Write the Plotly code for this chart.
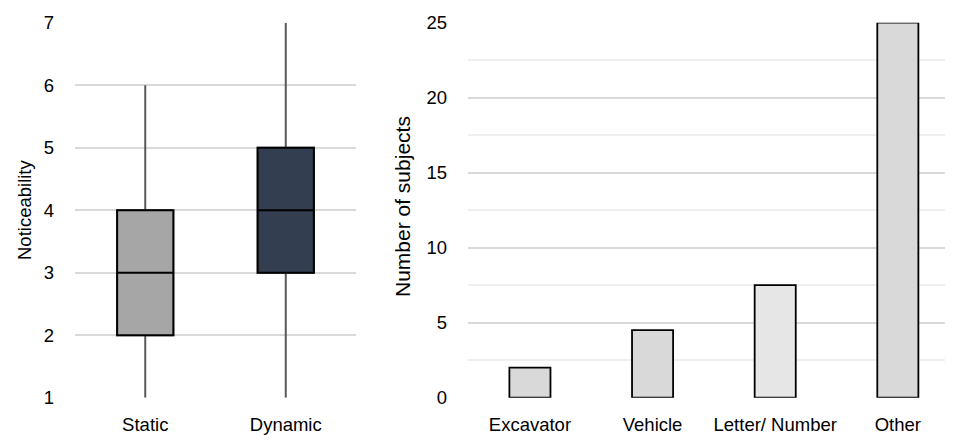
import plotly.graph_objects as go

# Left: box plot summary statistics
box_categories = ["Static", "Dynamic"]
box_min = [1, 1]
box_q1 = [2, 3]
box_median = [3, 4]
box_q3 = [4, 5]
box_max = [6, 7]
box_colors = ["#a6a6a6", "#333f50"]

# Right: bar chart
bar_categories = ["Excavator", "Vehicle", "Letter/ Number", "Other"]
bar_values = [2, 4.5, 7.5, 25]
bar_colors = ["#d9d9d9", "#d9d9d9", "#e6e6e6", "#d9d9d9"]

FONT = "Liberation Sans, Arial, sans-serif"
TICK = 18.5
W, H = 953, 440
OFF = 8  # page body offset compensation

fig = go.Figure()

for i, cat in enumerate(box_categories):
    # whiskers (grey)
    fig.add_trace(go.Box(
        x=[cat], q1=[box_q1[i]], median=[box_median[i]], q3=[box_q3[i]],
        lowerfence=[box_min[i]], upperfence=[box_max[i]],
        fillcolor=box_colors[i], line=dict(color="#595959", width=2),
        whiskerwidth=0, width=0.4, showlegend=False, boxpoints=False,
        xaxis="x", yaxis="y", hoverinfo="skip",
    ))
    # box (black outline)
    fig.add_trace(go.Box(
        x=[cat], q1=[box_q1[i]], median=[box_median[i]], q3=[box_q3[i]],
        lowerfence=[box_q1[i]], upperfence=[box_q3[i]],
        fillcolor=box_colors[i], line=dict(color="#000000", width=2),
        whiskerwidth=0, width=0.4, showlegend=False, boxpoints=False,
        xaxis="x", yaxis="y",
    ))

fig.add_trace(go.Bar(
    x=bar_categories, y=bar_values,
    marker=dict(color=bar_colors, line=dict(color="#000000", width=1.8)),
    width=0.335, showlegend=False, xaxis="x2", yaxis="y2",
))

def px_x(p):
    return (p - OFF) / W

def px_y(p):
    return 1 - (p - OFF) / H

ydom = [px_y(397.7), px_y(22.7)]

fig.update_layout(
    width=W, height=H,
    margin=dict(l=0, r=0, t=0, b=0, autoexpand=False),
    paper_bgcolor="white", plot_bgcolor="white",
    font=dict(family=FONT, size=TICK, color="#000000"),
    boxmode="overlay",
    xaxis=dict(domain=[px_x(75), px_x(356)], range=[-0.5, 1.5], showgrid=False, showline=False,
               zeroline=False, ticks="", ticklabelstandoff=14, tickfont=dict(size=TICK), automargin=False),
    yaxis=dict(domain=ydom, range=[1, 7], dtick=1, showgrid=True, gridcolor="#d9d9d9", gridwidth=2,
               zeroline=False, showline=False, ticks="", ticklabelstandoff=20, tickfont=dict(size=TICK),
               automargin=False),
    xaxis2=dict(domain=[px_x(468), 1.0], range=[-0.505, 3.515], showgrid=False, showline=False,
                zeroline=False, ticks="", ticklabelstandoff=14, tickfont=dict(size=TICK), anchor="y2",
                automargin=False),
    yaxis2=dict(domain=ydom, range=[0, 25], dtick=5, showgrid=True, gridcolor="#d9d9d9", gridwidth=2,
                minor=dict(dtick=2.5, showgrid=True, gridcolor="#efefef", gridwidth=2),
                zeroline=False, showline=False, ticks="", ticklabelstandoff=20, tickfont=dict(size=TICK),
                anchor="x2", automargin=False),
    annotations=[
        dict(text="Noticeability", textangle=-90, x=px_x(24), y=px_y(210), xref="paper", yref="paper",
             xanchor="center", yanchor="middle", showarrow=False, font=dict(size=18.5)),
        dict(text="Number of subjects", textangle=-90, x=px_x(402), y=px_y(207), xref="paper", yref="paper",
             xanchor="center", yanchor="middle", showarrow=False, font=dict(size=21)),
    ],
)

fig.write_html("out.html")
